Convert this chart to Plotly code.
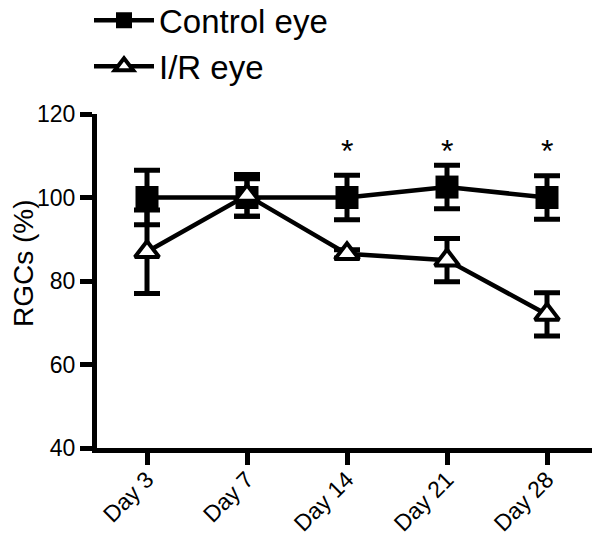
import plotly.graph_objects as go

days = ["Day 3", "Day 7", "Day 14", "Day 21", "Day 28"]
control_mean = [100, 100, 100, 102.5, 100]
control_err = [6.5, 4.5, 5.3, 5.2, 5.2]
ir_mean = [87, 100.5, 86.5, 85, 72]
ir_err = [10, 5, 1, 5.2, 5.2]
star_days = ["Day 14", "Day 21", "Day 28"]
star_y = [111.2, 111.2, 111.2]
y_title = "RGCs (%)"

FONT = "Arial, Liberation Sans, sans-serif"

fig = go.Figure()
fig.add_trace(go.Scatter(
    x=days, y=control_mean, name="Control eye", mode="lines+markers",
    line=dict(color="black", width=4.5),
    marker=dict(symbol="square", size=23, color="black"),
    error_y=dict(type="data", array=control_err, color="black", thickness=5, width=13),
    legendgroup="a",
))
fig.add_trace(go.Scatter(
    x=days, y=ir_mean, name="I/R eye", mode="lines+markers",
    line=dict(color="black", width=4.5),
    marker=dict(symbol="triangle-up", size=21, color="white",
                line=dict(color="black", width=4)),
    error_y=dict(type="data", array=ir_err, color="black", thickness=5, width=13),
    legendgroup="b",
))

for d, yv in zip(star_days, star_y):
    fig.add_annotation(x=d, y=yv, text="*", showarrow=False,
                       font=dict(family=FONT, size=32, color="black"))

fig.add_annotation(x=-0.148, xref="paper", xanchor="center", y=84.3, yref="y",
                   yanchor="middle", text=y_title, textangle=-90, showarrow=False,
                   font=dict(family=FONT, size=28, color="black"))

fig.update_layout(
    width=600, height=537,
    margin=dict(l=89, r=11, t=106, b=97, autoexpand=False),
    paper_bgcolor="white", plot_bgcolor="white",
    font=dict(family=FONT, color="black"),
    showlegend=True,
    legend=dict(xref="paper", yref="paper", x=-0.016, y=1.364,
                xanchor="left", yanchor="top", itemwidth=60,
                font=dict(family=FONT, size=33, color="black"),
                tracegroupgap=0, bgcolor="rgba(0,0,0,0)"),
    xaxis=dict(type="category", range=[-0.5, 4.5], showline=True, linecolor="black",
               linewidth=5, ticks="outside", ticklen=12, tickwidth=5, tickcolor="black",
               tickangle=-45, tickfont=dict(family=FONT, size=23, color="black"),
               ticklabelstandoff=-8, automargin=False,
               showgrid=False, zeroline=False),
    yaxis=dict(range=[40, 120], dtick=20, showline=True, linecolor="black",
               linewidth=5, ticks="outside", ticklen=12, tickwidth=5, tickcolor="black",
               tickfont=dict(family=FONT, size=23, color="black"), automargin=False,
               showgrid=False, zeroline=False),
)

fig.write_html("out.html")
